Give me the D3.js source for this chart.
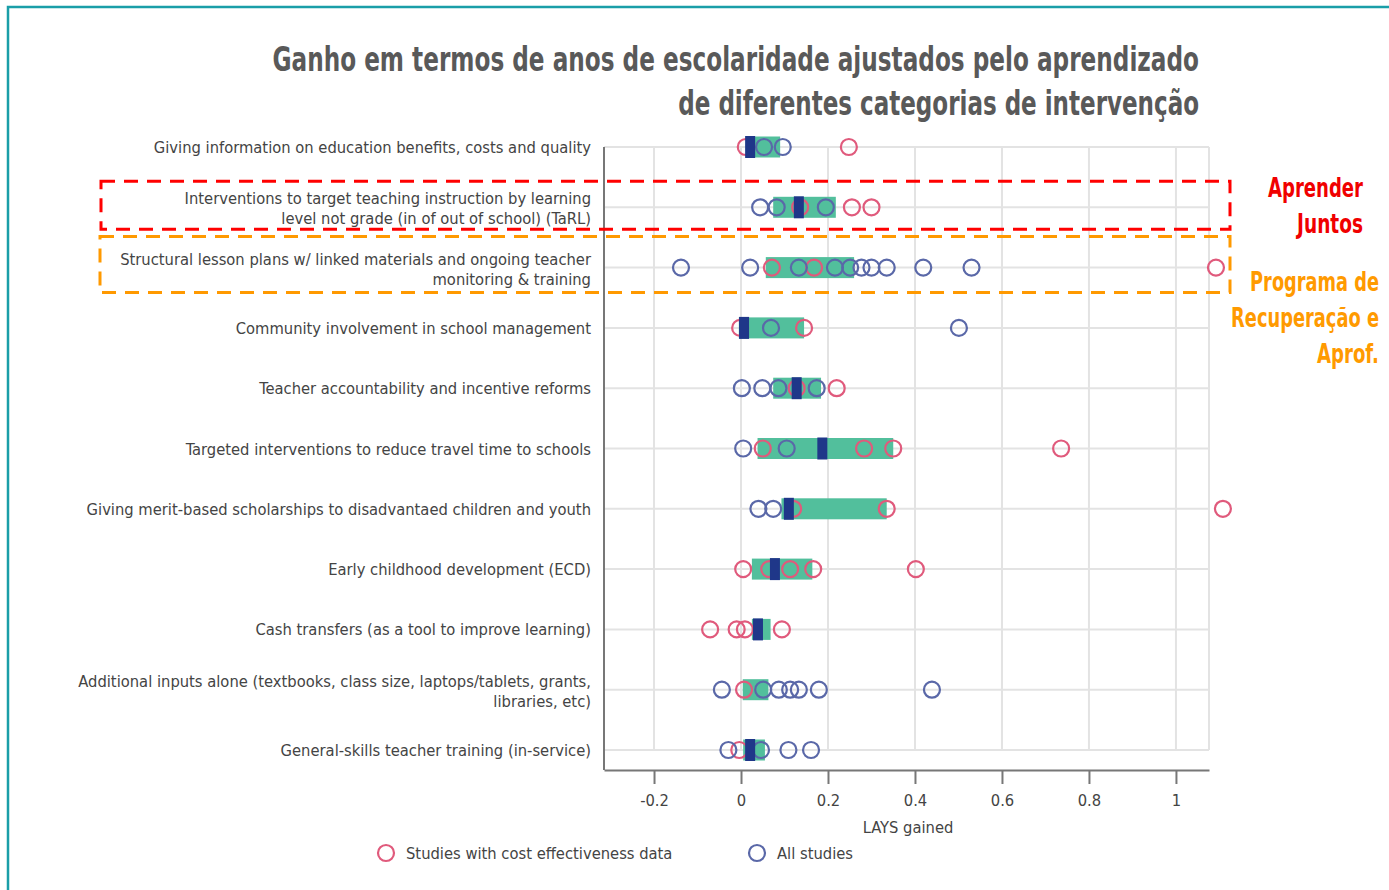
<!DOCTYPE html>
<html>
<head>
<meta charset="utf-8">
<script src="https://cdn.jsdelivr.net/npm/d3@7"></script>
<style>
  body { margin: 0; background: #fff; }
  svg { display: block; }
  .lbl { font-family: 'DejaVu Sans Condensed', 'Liberation Sans Narrow', sans-serif; fill: #444; }
</style>
</head>
<body>
<svg id="chart" width="1389" height="890"></svg>
<script>
// rows, top to bottom
var categories = [
  ["Giving information on education benefits, costs and quality"],
  ["Interventions to target teaching instruction by learning", "level not grade (in of out of school) (TaRL)"],
  ["Structural lesson plans w/ linked materials and ongoing teacher", "monitoring & training"],
  ["Community involvement in school management"],
  ["Teacher accountability and incentive reforms "],
  ["Targeted interventions to reduce travel time to schools"],
  ["Giving merit-based scholarships to disadvantaed children and youth"],
  ["Early childhood development (ECD)"],
  ["Cash transfers (as a tool to improve learning)"],
  ["Additional inputs alone (textbooks, class size, laptops/tablets, grants,", "libraries, etc)"],
  ["General-skills  teacher training (in-service)"]
];

// green range per row
var boxLow  = [0.011, 0.074, 0.057, -0.005, 0.074, 0.038, 0.093, 0.025, 0.025, 0.004, 0.005];
var boxHigh = [0.090, 0.218, 0.260, 0.145, 0.184, 0.350, 0.335, 0.164, 0.068, 0.063, 0.055];
// dark median mark (null = not shown)
var median  = [0.021, 0.133, null, 0.007, 0.128, 0.187, 0.110, 0.078, 0.039, null, 0.021];

// studies with cost effectiveness data
var costStudies = [
  [0.011, 0.248],
  [0.136, 0.255, 0.300],
  [0.071, 0.168, 1.092],
  [-0.002, 0.145],
  [0.128, 0.220],
  [0.050, 0.283, 0.350, 0.736],
  [0.120, 0.335, 1.108],
  [0.005, 0.065, 0.113, 0.166, 0.402],
  [-0.071, -0.010, 0.009, 0.094],
  [0.007],
  [-0.004]
];
// all studies
var allStudies = [
  [0.053, 0.096],
  [0.044, 0.082, 0.195],
  [-0.138, 0.021, 0.133, 0.216, 0.251, 0.277, 0.300, 0.335, 0.419, 0.530],
  [0.069, 0.501],
  [0.002, 0.049, 0.086, 0.174],
  [0.005, 0.105],
  [0.040, 0.074],
  [],
  [],
  [-0.044, 0.051, 0.087, 0.113, 0.133, 0.179, 0.439],
  [-0.029, 0.046, 0.109, 0.161]
];

var xTicks = [-0.2, 0, 0.2, 0.4, 0.6, 0.8, 1];
var xTickLabels = ["-0.2", "0", "0.2", "0.4", "0.6", "0.8", "1"];

var titleLines = ["Ganho em termos de anos de escolaridade ajustados pelo aprendizado",
                  "de diferentes categorias de intervenção"];
var note1 = ["Aprender", "Juntos"];
var note2 = ["Programa de", "Recuperação e", "Aprof."];

var red = "#e05a7c", blue = "#5a68a8", green = "#52bf9c", navy = "#1f3789";

var svg = d3.select("#chart");

// frame
svg.append("path")
  .attr("d", "M8,890V7H1389")
  .attr("fill", "none")
  .attr("stroke", "#1a9ea8")
  .attr("stroke-width", 2.5);

var x = d3.scaleLinear().domain([-0.315, 1.076]).range([604, 1209]);
var rowIdx = d3.range(categories.length);
var y = d3.scalePoint().domain(rowIdx).range([147, 750]);
var axisY = 770;

// grid
var grid = svg.append("g");
grid.selectAll(".vg").data(xTicks.concat([1.076])).enter().append("line")
  .attr("x1", d => x(d)).attr("x2", d => x(d))
  .attr("y1", y(0)).attr("y2", y(10))
  .attr("stroke", "#e3e3e3").attr("stroke-width", 2);
grid.selectAll(".hg").data(rowIdx).enter().append("line")
  .attr("x1", x.range()[0]).attr("x2", x.range()[1])
  .attr("y1", d => y(d)).attr("y2", d => y(d))
  .attr("stroke", "#e3e3e3").attr("stroke-width", 2);

// green ranges
svg.append("g").selectAll("rect").data(rowIdx).enter().append("rect")
  .attr("x", d => x(boxLow[d]))
  .attr("width", d => x(boxHigh[d]) - x(boxLow[d]))
  .attr("y", d => y(d) - 10.5)
  .attr("height", 21)
  .attr("fill", green);

// circles
function drawCircles(list, color) {
  var pts = [];
  list.forEach((vals, i) => vals.forEach(v => pts.push({row: i, v: v})));
  svg.append("g").selectAll("circle").data(pts).enter().append("circle")
    .attr("cx", d => x(d.v))
    .attr("cy", d => y(d.row))
    .attr("r", 8)
    .attr("fill", "none")
    .attr("stroke", color)
    .attr("stroke-width", 2.2);
}
drawCircles(costStudies, red);
drawCircles(allStudies, blue);

// medians
svg.append("g").selectAll("rect").data(rowIdx.filter(i => median[i] != null)).enter().append("rect")
  .attr("x", d => x(median[d]) - 5)
  .attr("width", 10)
  .attr("y", d => y(d) - 11)
  .attr("height", 22)
  .attr("fill", navy);

// axes
svg.append("line")
  .attr("x1", x.range()[0]).attr("x2", x.range()[0])
  .attr("y1", y(0)).attr("y2", axisY)
  .attr("stroke", "#777").attr("stroke-width", 2);

var xAxis = svg.append("g")
  .attr("transform", "translate(0," + axisY + ")")
  .call(d3.axisBottom(x).tickValues(xTicks).tickSize(14).tickPadding(10)
        .tickFormat((d, i) => xTickLabels[i]).tickSizeOuter(0));
xAxis.select(".domain").attr("stroke", "#777").attr("stroke-width", 2);
xAxis.selectAll(".tick line").attr("stroke", "#777").attr("stroke-width", 2);
xAxis.selectAll(".tick text").attr("class", "lbl").attr("font-size", 16.4).attr("fill", "#555");

svg.append("text").attr("class", "lbl")
  .attr("x", 908).attr("y", 833)
  .attr("text-anchor", "middle").attr("font-size", 16.4)
  .text("LAYS gained");

// row labels
var labels = svg.append("g").selectAll("text").data(rowIdx).enter().append("text")
  .attr("class", "lbl")
  .attr("text-anchor", "end")
  .attr("font-size", 16.4);
labels.each(function(d) {
  var lines = categories[d];
  var t = d3.select(this);
  lines.forEach((s, k) => {
    var off = lines.length === 1 ? 6 : (k === 0 ? -3 : 17);
    t.append("tspan").attr("x", 591).attr("y", y(d) + off).text(s);
  });
});

// legend
var legend = [{c: red, t: "Studies with cost effectiveness data", x: 386},
              {c: blue, t: "All studies", x: 757}];
var lg = svg.append("g").selectAll("g").data(legend).enter().append("g")
  .attr("transform", d => "translate(" + d.x + ",853)");
lg.append("circle").attr("r", 8).attr("fill", "none")
  .attr("stroke", d => d.c).attr("stroke-width", 2.2);
lg.append("text").attr("class", "lbl").attr("x", 20).attr("y", 6)
  .attr("font-size", 16.4).text(d => d.t);

// condensed bold text: right-aligned, squeezed horizontally to a target width
function condensed(lines, widths, opts) {
  svg.append("g").selectAll("text").data(lines).enter().append("text")
    .attr("text-anchor", "end")
    .attr("font-family", "'DejaVu Sans Condensed', sans-serif")
    .attr("font-weight", "bold")
    .attr("font-size", opts.size)
    .attr("fill", opts.color)
    .text(d => d)
    .each(function(d, i) {
      var k = Math.min(1, widths[i] / this.getComputedTextLength());
      d3.select(this).attr("transform",
        "translate(" + opts.x + "," + (opts.y + i * opts.step) + ") scale(" + k + ",1)");
    });
}

condensed(titleLines, [927, 521], {x: 1199, y: 71, step: 44, size: 33, color: "#595959"});

// highlight boxes
svg.append("rect")
  .attr("x", 101).attr("y", y(1) - 26).attr("width", 1129).attr("height", 48)
  .attr("fill", "none").attr("stroke", "#ff0000").attr("stroke-width", 3)
  .attr("stroke-dasharray", "14,9");
svg.append("rect")
  .attr("x", 100).attr("y", y(2) - 31).attr("width", 1130).attr("height", 56)
  .attr("fill", "none").attr("stroke", "#ff9900").attr("stroke-width", 3)
  .attr("stroke-dasharray", "14,9");

condensed(note1, [95, 66], {x: 1363, y: 197, step: 36, size: 27, color: "#f00000"});
condensed(note2, [129, 148, 62], {x: 1379, y: 291, step: 36, size: 27, color: "#ff9a00"});
</script>
</body>
</html>
